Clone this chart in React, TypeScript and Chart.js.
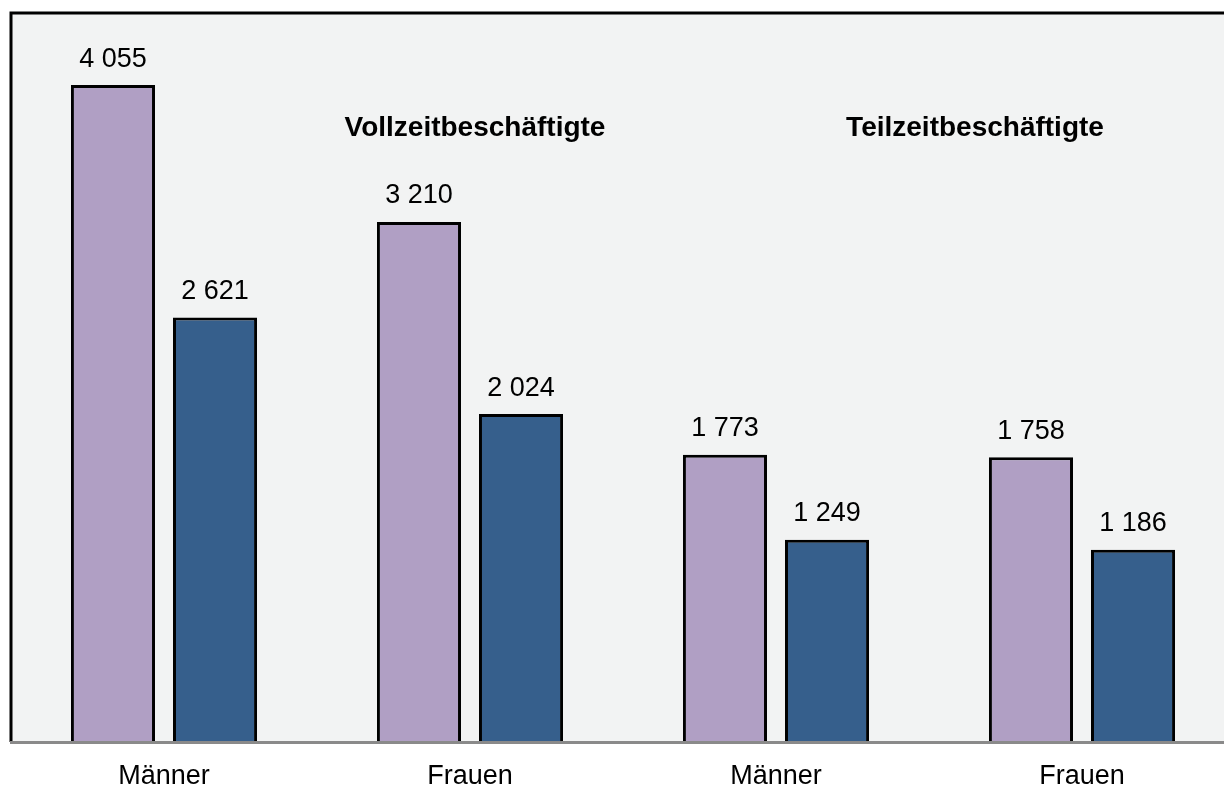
import React, { useEffect, useRef } from "react";
import { Chart, registerables } from "chart.js";

Chart.register(...registerables);

const categories = ["Männer", "Frauen", "Männer", "Frauen"];
const seriesA = [4055, 3210, 1773, 1758];
const seriesB = [2621, 2024, 1249, 1186];
const groupTitles = ["Vollzeitbeschäftigte", "Teilzeitbeschäftigte"];

const FONT = "'Liberation Sans', Arial, sans-serif";

const fmt = (v: number) => String(v).replace(/\B(?=(\d{3})+(?!\d))/g, " ");

const boxPlugin = {
  id: "box",
  beforeDraw(chart: any) {
    const { ctx, chartArea: a } = chart;
    ctx.save();
    ctx.fillStyle = "#f2f3f3";
    ctx.fillRect(a.left, a.top, a.right - a.left, a.bottom - a.top);
    ctx.strokeStyle = "#000";
    ctx.lineWidth = 3;
    ctx.beginPath();
    ctx.moveTo(a.left, a.bottom);
    ctx.lineTo(a.left, a.top);
    ctx.lineTo(a.right, a.top);
    ctx.stroke();
    ctx.restore();
  },
  afterDatasetsDraw(chart: any) {
    const { ctx, chartArea: a, scales } = chart;
    ctx.save();
    ctx.strokeStyle = "#8a8a8a";
    ctx.lineWidth = 3;
    ctx.beginPath();
    ctx.moveTo(a.left - 1, a.bottom + 0.5);
    ctx.lineTo(a.right, a.bottom + 0.5);
    ctx.stroke();

    ctx.fillStyle = "#000";
    ctx.textAlign = "center";
    ctx.textBaseline = "middle";
    ctx.font = `27px ${FONT}`;
    chart.data.datasets.forEach((ds: any, di: number) => {
      const meta = chart.getDatasetMeta(di);
      meta.data.forEach((bar: any, i: number) => {
        ctx.fillText(fmt(ds.data[i]), bar.x, bar.y - 26);
      });
    });

    ctx.font = `bold 28px ${FONT}`;
    const y = scales.y.getPixelForValue(3790);
    const x0 = scales.x.getPixelForValue(1) + 5;
    const x1 = (scales.x.getPixelForValue(2) + scales.x.getPixelForValue(3)) / 2 + 46;
    ctx.fillText(groupTitles[0], x0, y);
    ctx.fillText(groupTitles[1], x1, y);
    ctx.restore();
  },
};

export default function App() {
  const ref = useRef<HTMLCanvasElement>(null);
  useEffect(() => {
    if (!ref.current) return;
    const chart = new Chart(ref.current, {
      type: "bar",
      data: {
        labels: categories,
        datasets: [
          {
            label: "Reihe 1",
            data: seriesA,
            backgroundColor: "#b09fc4",
            borderColor: "#000",
            borderWidth: 3,
            borderSkipped: "start",
          },
          {
            label: "Reihe 2",
            data: seriesB,
            backgroundColor: "#365f8c",
            borderColor: "#000",
            borderWidth: 3,
            borderSkipped: "start",
          },
        ],
      },
      options: {
        animation: false,
        responsive: false,
        maintainAspectRatio: false,
        devicePixelRatio: 1,
        layout: { padding: { left: 11, top: 13, right: 0, bottom: 0 } },
        datasets: { bar: { categoryPercentage: 0.667, barPercentage: 0.824 } },
        plugins: { legend: { display: false }, tooltip: { enabled: false } },
        scales: {
          x: {
            grid: { display: false, drawTicks: false },
            border: { display: false },
            ticks: {
              color: "#000",
              font: { family: FONT, size: 27 },
              padding: 18,
              maxRotation: 0,
              autoSkip: false,
            },
            afterFit: (s: any) => {
              s.height = 45;
            },
          },
          y: {
            display: false,
            min: 0,
            max: 4500,
          },
        },
      },
      plugins: [boxPlugin],
    });
    return () => chart.destroy();
  }, []);
  return (
    <div
      style={{
        position: "fixed",
        left: 0,
        top: 0,
        width: 1224,
        height: 787,
        overflow: "hidden",
        background: "#fff",
      }}
    >
      <canvas ref={ref} width={1235} height={787} style={{ display: "block" }} />
    </div>
  );
}
